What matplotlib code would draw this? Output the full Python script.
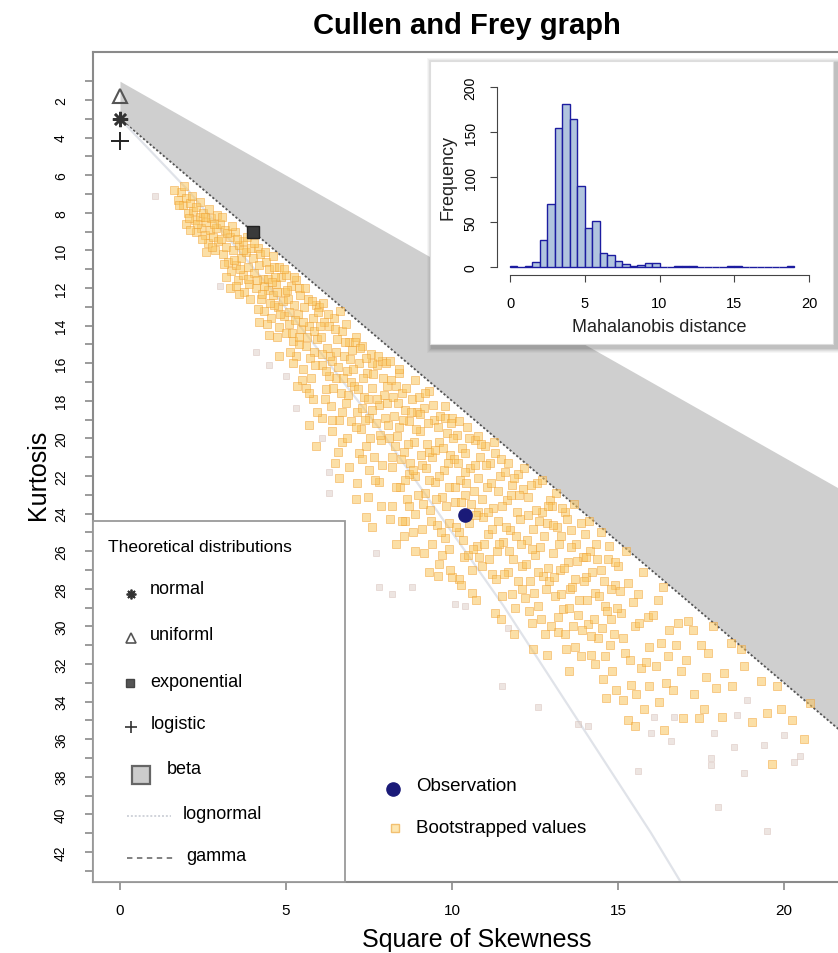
import matplotlib
matplotlib.use("Agg")
import matplotlib.pyplot as plt
from matplotlib.lines import Line2D
from matplotlib.patches import Rectangle
from matplotlib.transforms import blended_transform_factory
import numpy as np

plt.rcParams['font.family'] = ['Liberation Sans', 'DejaVu Sans']

W, H = 838, 954

# theoretical boundaries (square of skewness -> kurtosis)
bound_sq = [0, 22]
beta_upper_kurt = [1, 23]
gamma_kurt = [3, 36]
lognormal_sq = [0, 2.05, 4.62, 7.78, 11.55, 16.0, 17.2]
lognormal_kurt = [3, 6.8, 12.2, 19.4, 28.9, 41.0, 44.5]

# single point distributions
uniform_pt = (0, 1.8)
normal_pt = (0, 3.0)
logistic_pt = (0, 4.2)
exponential_pt = (4.0, 9.0)
observation_pt = (10.4, 24.1)

kurt_ticks = list(range(2, 43, 2))
skew_ticks = [0, 5, 10, 15, 20]

# bootstrapped (square of skewness, kurtosis)
boot_points = [
    (1.75, 7.3), (1.85, 6.9), (1.9, 7.6), (2.0, 7.2), (2.05, 8.0), (2.1, 7.5), (2.2, 7.9), (2.25, 8.4),
    (2.3, 7.7), (2.4, 8.2), (2.45, 8.8), (2.5, 8.0), (2.55, 9.2), (2.6, 8.5), (2.65, 9.6), (2.7, 8.9),
    (2.75, 8.3), (2.8, 9.3), (2.85, 10.0), (2.9, 8.8), (2.95, 9.5), (2.3, 9.0), (2.0, 8.6), (2.6, 10.1),
    (3.0, 8.6), (3.05, 9.4), (3.1, 10.2), (3.15, 8.9), (3.2, 9.8), (3.25, 10.6), (3.3, 9.3), (3.35, 11.1),
    (3.4, 10.0), (3.45, 9.0), (3.5, 10.8), (3.55, 11.6), (3.6, 9.7), (3.65, 10.4), (3.7, 11.3), (3.75, 12.2),
    (3.8, 10.1), (3.85, 10.9), (3.9, 11.8), (3.95, 9.9), (3.3, 12.0), (3.7, 9.5),
    (4.0, 10.4), (4.05, 11.2), (4.1, 12.0), (4.15, 9.9), (4.2, 10.8), (4.25, 12.6), (4.3, 11.5), (4.35, 13.2),
    (4.4, 10.6), (4.45, 12.1), (4.5, 11.0), (4.55, 13.6), (4.6, 12.4), (4.65, 10.9), (4.7, 11.8), (4.75, 13.0),
    (4.8, 14.1), (4.85, 11.4), (4.9, 12.7), (4.95, 13.5), (4.5, 14.5), (4.2, 13.8), (4.8, 10.9), (4.35, 11.9),
    (4.65, 12.9), (4.8, 15.6),
    (5.0, 11.3), (5.05, 12.6), (5.1, 13.9), (5.15, 11.9), (5.2, 14.8), (5.25, 12.9), (5.3, 15.6), (5.35, 13.4),
    (5.4, 12.0), (5.45, 14.2), (5.5, 16.3), (5.55, 13.0), (5.6, 15.1), (5.65, 12.6), (5.7, 14.0), (5.75, 16.8),
    (5.8, 13.6), (5.85, 15.4), (5.9, 12.9), (5.95, 14.7), (5.2, 16.0), (5.6, 17.3), (5.4, 15.0), (5.8, 17.9),
    (5.0, 14.4), (5.3, 11.6), (5.7, 19.3), (5.9, 20.4),
    (6.0, 13.0), (6.05, 14.6), (6.1, 16.1), (6.15, 13.8), (6.2, 17.4), (6.25, 15.2), (6.3, 14.0), (6.35, 18.3),
    (6.4, 15.9), (6.45, 13.6), (6.5, 16.8), (6.55, 14.7), (6.6, 19.0), (6.65, 17.6), (6.7, 14.3), (6.75, 15.6),
    (6.8, 18.1), (6.85, 16.4), (6.9, 14.9), (6.95, 17.0), (6.1, 18.9), (6.4, 19.6), (6.7, 20.2), (6.3, 16.7),
    (6.8, 13.9), (6.6, 22.1), (6.9, 21.5),
    (7.0, 15.3), (7.05, 17.2), (7.1, 14.6), (7.15, 18.6), (7.2, 16.0), (7.25, 19.5), (7.3, 15.1), (7.35, 17.8),
    (7.4, 20.4), (7.45, 16.5), (7.5, 18.9), (7.55, 15.5), (7.6, 17.3), (7.65, 21.0), (7.7, 19.2), (7.75, 16.1),
    (7.8, 18.2), (7.85, 20.1), (7.9, 15.9), (7.95, 17.7), (7.2, 20.8), (7.5, 21.7), (7.8, 22.3), (7.3, 18.4),
    (7.6, 16.0), (7.1, 23.2), (7.6, 24.7), (7.4, 24.2),
    (8.0, 16.0), (8.05, 18.1), (8.1, 20.0), (8.15, 16.9), (8.2, 21.5), (8.25, 18.8), (8.3, 17.2), (8.35, 19.9),
    (8.4, 19.4), (8.45, 22.6), (8.5, 17.6), (8.55, 20.7), (8.6, 18.5), (8.65, 23.2), (8.7, 19.1), (8.75, 21.3),
    (8.8, 17.9), (8.85, 20.2), (8.9, 22.0), (8.95, 18.6), (8.2, 23.6), (8.6, 24.4), (8.9, 24.0), (8.4, 16.5),
    (8.7, 21.9), (8.5, 24.4), (8.9, 26.0), (8.3, 25.6),
    (9.0, 17.8), (9.05, 19.6), (9.1, 21.4), (9.15, 18.4), (9.2, 22.9), (9.25, 20.3), (9.3, 17.5), (9.35, 23.8),
    (9.4, 21.0), (9.45, 19.0), (9.5, 22.3), (9.55, 24.6), (9.6, 20.2), (9.65, 18.8), (9.7, 23.1), (9.75, 21.7),
    (9.8, 25.3), (9.85, 19.7), (9.9, 22.6), (9.95, 20.9), (9.1, 24.8), (9.4, 25.6), (9.7, 26.2), (9.3, 20.7),
    (9.8, 18.9), (9.3, 27.1), (9.6, 26.7), (9.9, 25.9),
    (10.0, 18.9), (10.05, 21.1), (10.1, 23.4), (10.15, 19.8), (10.2, 25.0), (10.25, 22.2), (10.3, 20.5),
    (10.35, 26.3), (10.4, 23.0), (10.45, 19.4), (10.5, 24.5), (10.55, 21.6), (10.6, 27.0), (10.65, 22.8),
    (10.7, 20.1), (10.75, 25.7), (10.8, 23.9), (10.85, 21.0), (10.9, 26.8), (10.95, 24.2), (10.2, 27.5),
    (10.6, 28.2), (10.8, 19.9), (10.4, 21.8), (10.0, 27.4),
    (11.0, 20.4), (11.05, 22.6), (11.1, 25.1), (11.15, 21.3), (11.2, 27.2), (11.25, 23.7), (11.3, 20.8),
    (11.35, 26.0), (11.4, 24.4), (11.45, 22.0), (11.5, 28.4), (11.55, 25.5), (11.6, 21.8), (11.65, 23.3),
    (11.7, 27.1), (11.75, 24.9), (11.8, 22.5), (11.85, 26.4), (11.9, 29.0), (11.95, 23.9), (11.3, 29.3),
    (12.0, 21.9), (12.05, 24.3), (12.1, 26.8), (12.15, 22.7), (12.2, 28.5), (12.25, 25.4), (12.3, 23.1),
    (12.35, 27.6), (12.4, 29.8), (12.45, 24.8), (12.5, 26.2), (12.55, 22.4), (12.6, 28.9), (12.65, 25.8),
    (12.7, 23.9), (12.75, 27.3), (12.8, 30.4), (12.85, 24.5), (12.9, 26.9), (12.95, 23.3),
    (13.0, 23.6), (13.05, 26.1), (13.1, 28.4), (13.15, 24.7), (13.2, 30.3), (13.25, 27.0), (13.3, 25.2),
    (13.35, 29.1), (13.4, 23.9), (13.45, 31.2), (13.5, 26.6), (13.55, 28.0), (13.6, 24.9), (13.65, 30.0),
    (13.7, 27.5), (13.75, 25.6), (13.8, 29.4), (13.9, 31.6), (13.95, 26.3),
    (14.0, 25.1), (14.05, 27.4), (14.1, 29.9), (14.15, 26.0), (14.2, 31.5), (14.3, 28.2), (14.35, 25.6),
    (14.4, 30.6), (14.5, 27.0), (14.55, 32.8), (14.6, 28.9), (14.7, 26.4), (14.75, 31.0), (14.8, 29.6),
    (14.9, 27.8), (14.95, 33.4),
    (15.0, 26.8), (15.1, 29.3), (15.2, 31.4), (15.3, 27.7), (15.4, 33.1), (15.5, 30.0), (15.6, 28.3),
    (15.7, 32.2), (15.8, 34.4), (15.9, 29.5), (15.3, 35.0), (15.95, 31.1),
    (16.2, 28.6), (16.3, 30.9), (16.45, 33.0), (16.8, 29.8), (16.9, 32.4), (16.5, 31.6),
    (17.1, 29.7), (17.3, 33.6), (17.5, 31.0), (17.7, 31.4), (17.6, 34.4), (18.2, 32.5), (18.4, 30.9),
    (18.8, 32.1), (19.5, 34.6), (19.8, 33.2), (20.8, 34.1),
]

# second pass over the denser parts of the cloud
boot_points_dense = [
    (1.62, 6.8), (1.78, 7.6), (1.93, 6.6), (2.07, 8.3), (2.18, 7.1), (2.33, 8.6), (2.41, 7.4), (2.57, 8.2),
    (2.68, 7.8), (2.77, 9.8), (2.91, 8.1), (2.12, 8.9), (2.47, 9.4), (2.83, 8.6),
    (3.07, 8.2), (3.13, 10.7), (3.22, 9.1), (3.38, 8.7), (3.42, 10.5), (3.51, 9.4), (3.63, 11.0), (3.72, 10.0),
    (3.83, 9.3), (3.87, 11.5), (3.58, 12.3), (3.18, 11.4), (3.93, 12.6), (3.48, 11.9),
    (4.03, 9.6), (4.12, 11.6), (4.22, 10.2), (4.28, 12.3), (4.38, 10.1), (4.47, 11.5), (4.53, 12.8),
    (4.62, 10.3), (4.68, 11.4), (4.73, 12.2), (4.82, 13.4), (4.93, 11.0), (4.97, 12.2), (4.15, 13.1),
    (4.43, 13.9), (4.72, 14.6), (4.58, 11.7),
    (5.03, 12.1), (5.08, 13.3), (5.17, 14.4), (5.23, 11.4), (5.28, 13.7), (5.38, 14.6), (5.43, 12.4),
    (5.52, 13.8), (5.58, 12.0), (5.63, 14.6), (5.72, 15.7), (5.78, 12.7), (5.83, 14.3), (5.88, 16.1),
    (5.97, 13.3), (5.47, 16.9), (5.12, 15.4), (5.68, 17.6), (5.93, 18.6), (5.33, 17.2),
    (6.03, 14.0), (6.08, 15.5), (6.13, 12.8), (6.22, 16.4), (6.28, 13.4), (6.33, 15.6), (6.42, 17.3),
    (6.48, 14.2), (6.52, 15.4), (6.58, 16.2), (6.63, 13.2), (6.68, 18.6), (6.72, 16.8), (6.78, 14.9),
    (6.87, 17.7), (6.93, 15.8), (6.97, 19.1), (6.17, 17.9), (6.38, 19.0), (6.57, 20.7), (6.83, 20.0),
    (6.47, 21.3),
    (7.03, 16.3), (7.08, 14.9), (7.12, 19.4), (7.18, 17.4), (7.22, 15.2), (7.28, 21.1), (7.33, 16.8),
    (7.38, 19.0), (7.42, 15.7), (7.48, 17.9), (7.53, 20.0), (7.58, 18.5), (7.63, 16.6), (7.68, 22.2),
    (7.73, 17.9), (7.78, 15.6), (7.83, 19.8), (7.88, 21.4), (7.93, 16.8), (7.98, 18.9), (7.15, 22.4),
    (7.47, 23.1), (7.87, 23.6),
    (8.03, 17.2), (8.08, 19.3), (8.12, 15.9), (8.18, 21.0), (8.22, 17.8), (8.28, 20.4), (8.32, 22.6),
    (8.38, 18.1), (8.42, 16.3), (8.48, 21.1), (8.52, 19.0), (8.58, 22.2), (8.62, 17.3), (8.68, 20.3),
    (8.72, 23.6), (8.78, 18.6), (8.82, 21.7), (8.88, 16.9), (8.92, 19.5), (8.98, 23.0), (8.13, 24.3),
    (8.57, 25.2), (8.83, 25.0),
    (9.03, 18.7), (9.08, 20.9), (9.12, 23.5), (9.18, 17.6), (9.22, 21.6), (9.28, 19.2), (9.32, 22.2),
    (9.38, 24.4), (9.42, 18.2), (9.48, 20.6), (9.52, 23.2), (9.58, 19.4), (9.62, 22.0), (9.68, 25.0),
    (9.72, 20.5), (9.78, 18.3), (9.82, 23.6), (9.88, 21.3), (9.92, 24.5), (9.98, 19.2), (9.17, 26.1),
    (9.57, 27.3), (9.93, 27.0),
    (10.03, 20.0), (10.08, 22.6), (10.12, 24.7), (10.18, 21.3), (10.22, 19.1), (10.28, 23.4), (10.32, 25.4),
    (10.38, 20.8), (10.42, 22.4), (10.48, 26.2), (10.52, 20.0), (10.58, 23.5), (10.62, 25.9), (10.68, 21.4),
    (10.72, 24.1), (10.78, 22.1), (10.82, 26.3), (10.88, 20.3), (10.92, 23.2), (10.98, 25.6), (10.27, 27.8),
    (10.73, 28.6),
    (11.03, 21.4), (11.08, 23.9), (11.12, 26.4), (11.18, 22.4), (11.22, 24.8), (11.28, 20.2), (11.32, 27.5),
    (11.38, 22.8), (11.42, 25.6), (11.48, 21.1), (11.52, 23.6), (11.58, 27.2), (11.62, 24.7), (11.68, 21.3),
    (11.72, 26.0), (11.78, 23.0), (11.82, 28.3), (11.88, 22.1), (11.92, 25.2), (11.98, 27.6), (11.47, 29.6),
    (11.87, 30.4),
    (12.03, 23.0), (12.08, 25.6), (12.12, 28.0), (12.18, 21.6), (12.22, 26.7), (12.28, 24.1), (12.32, 29.2),
    (12.38, 22.5), (12.42, 25.9), (12.48, 28.2), (12.52, 23.8), (12.58, 27.1), (12.62, 24.4), (12.68, 29.6),
    (12.72, 22.2), (12.78, 25.2), (12.82, 28.0), (12.88, 23.6), (12.92, 27.6), (12.98, 30.0), (12.43, 31.2),
    (12.87, 31.5),
    (13.03, 24.6), (13.08, 27.4), (13.12, 22.9), (13.18, 29.5), (13.22, 25.6), (13.28, 28.3), (13.32, 23.7),
    (13.38, 26.9), (13.42, 30.4), (13.48, 24.3), (13.52, 29.0), (13.58, 25.8), (13.62, 27.9), (13.68, 23.5),
    (13.72, 31.1), (13.78, 26.5), (13.82, 28.6), (13.88, 24.5), (13.92, 30.2), (13.98, 27.6), (13.53, 32.4),
    (14.03, 26.3), (14.08, 28.6), (14.12, 24.4), (14.18, 30.5), (14.22, 27.1), (14.28, 29.6), (14.32, 32.0),
    (14.38, 26.4), (14.42, 28.4), (14.48, 25.0), (14.52, 30.1), (14.58, 27.6), (14.62, 31.6), (14.68, 29.2),
    (14.72, 25.7), (14.78, 28.0), (14.82, 32.4), (14.88, 30.4), (14.92, 26.6), (14.98, 29.0), (14.63, 33.8),
    (15.05, 28.1), (15.15, 30.6), (15.25, 26.0), (15.35, 31.8), (15.45, 28.7), (15.55, 33.6), (15.65, 29.8),
    (15.75, 27.1), (15.85, 31.9), (15.95, 33.2), (15.15, 33.9), (15.5, 35.3),
    (16.05, 29.4), (16.15, 32.1), (16.25, 34.0), (16.35, 27.9), (16.55, 30.2), (16.65, 33.4), (16.75, 31.0),
    (16.95, 34.9), (16.4, 35.5),
    (17.05, 31.8), (17.25, 30.2), (17.45, 34.9), (17.65, 32.7), (17.85, 30.0), (17.95, 33.3),
    (18.15, 34.8), (18.45, 33.2), (18.7, 31.2), (19.05, 35.1), (19.3, 32.9), (19.65, 37.3), (19.9, 34.4),
    (20.25, 35.0), (20.6, 36.0),
]

# faint, greyish bootstrap values away from the main band
boot_outliers = [
    (1.05, 7.1), (3.0, 11.9), (4.1, 15.4), (4.5, 16.1), (5.0, 16.7), (5.3, 18.4), (6.1, 20.0), (6.3, 21.8),
    (6.3, 22.9), (7.7, 26.1), (7.8, 27.9), (8.2, 28.3), (8.8, 27.9), (10.1, 28.8), (10.4, 28.9), (11.7, 30.1),
    (11.5, 33.2), (12.6, 34.3), (13.8, 35.2), (14.1, 35.3), (15.6, 37.7), (16.0, 35.7), (16.1, 34.8),
    (16.6, 36.1), (16.7, 34.8), (17.8, 37.0), (17.8, 37.4), (17.9, 35.7), (18.0, 39.6), (18.5, 36.4),
    (18.6, 34.7), (18.9, 33.9), (18.8, 37.8), (19.4, 36.3), (19.5, 40.9), (20.0, 35.8), (20.3, 37.2),
    (20.5, 36.9),
]

# inset histogram of Mahalanobis distances
hist_bin_width = 0.5
hist_counts = [1, 0, 1, 5, 30, 70, 154, 181, 164, 90, 43, 51, 16, 13, 7, 3, 1, 2, 4, 4,
               0, 0, 1, 1, 1, 0, 0, 0, 0, 1, 1, 0, 0, 0, 0, 0, 0, 1]

theo_labels = ["normal", "uniforml", "exponential", "logistic", "beta", "lognormal", "gamma"]


def fpt(px, py):
    return (px / W, 1 - py / H)


fig = plt.figure(figsize=(W / 100, H / 100), dpi=100)

# ---- main Cullen & Frey axes ----
ax = fig.add_axes([93 / W, 1 - 883 / H, (838 - 93) / W, (883 - 53) / H])
ax.set_xlim(-0.813, 21.63)
ax.set_ylim(43.6, -0.553)

ax.fill_between(bound_sq, beta_upper_kurt, gamma_kurt, color='#cfcfcf', lw=0, zorder=1)
ax.plot(bound_sq, gamma_kurt, color='#555555', ls=(0, (1.2, 1.2)), lw=1.3, zorder=2)
ax.plot(lognormal_sq, lognormal_kurt, color='#e0e3e9', lw=1.6, zorder=2)

bx, by = np.array(boot_points + boot_points_dense).T
ox, oy = np.array(boot_outliers).T
ax.scatter(ox, oy, s=18, marker='s', facecolor='#ddccc4', edgecolor='#cdb0a6', lw=0.5, alpha=0.5, zorder=3)
ax.scatter(bx, by, s=26, marker='s', facecolor='#f9c55e', edgecolor='#f0a030', lw=0.6, alpha=0.55, zorder=3)

ax.plot(*uniform_pt, marker='^', ms=10, mfc='none', mec='#555555', mew=1.5, zorder=5)
ax.plot(*normal_pt, marker=(8, 2, 0), ms=11, color='#333333', mew=1.8, zorder=5)
ax.plot(*logistic_pt, marker='+', ms=13, color='#222222', mew=1.4, zorder=5)
ax.plot(*exponential_pt, marker='s', ms=9, mfc='#3a3a3a', mec='#222222', mew=1, zorder=5)
ax.plot(*observation_pt, marker='o', ms=9.5, color='#1a1a78', zorder=6)

for side in ['left', 'top', 'bottom']:
    ax.spines[side].set_color('#8a8a8a')
    ax.spines[side].set_linewidth(1.5)
ax.spines['right'].set_visible(False)

ax.set_xticks(skew_ticks)
ax.set_yticks(kurt_ticks)
ax.set_yticks(range(1, 44, 2), minor=True)
ax.tick_params(axis='both', which='both', direction='out', length=6, width=1.2, color='#8a8a8a')
ax.tick_params(axis='x', labelsize=11, pad=9)
# rotated kurtosis labels placed explicitly, R style
ax.tick_params(axis='y', labelleft=False)
ylab_tr = blended_transform_factory(ax.transAxes, ax.transData)
for k in kurt_ticks:
    ax.text((61 - 93) / 745, k, str(k), transform=ylab_tr, rotation=90, ha='center', va='center',
            fontsize=10, clip_on=False)

fig.text(477 / W, 1 - 940 / H, 'Square of Skewness', ha='center', va='center', fontsize=18)
fig.text(38 / W, 1 - 475 / H, 'Kurtosis', rotation=90, ha='center', va='center', fontsize=18)
fig.text(467 / W, 1 - 26 / H, 'Cullen and Frey graph', ha='center', va='center',
         fontsize=21, fontweight='bold')

# ---- theoretical distributions legend ----
fig.add_artist(Rectangle(fpt(93, 883), (345 - 93) / W, (883 - 522) / H, transform=fig.transFigure,
                         facecolor='white', edgecolor='#9a9a9a', lw=1.3, zorder=2))
fig.text(*fpt(108, 548), 'Theoretical distributions', fontsize=12.5, va='center', zorder=3)

legend_marks = [
    dict(marker=(8, 2, 0), ms=7, color='#333333', mew=1.3),
    dict(marker='^', ms=6.5, mfc='none', mec='#555555', mew=1.2),
    dict(marker='s', ms=5.5, mfc='#555555', mec='#444444'),
    dict(marker='+', ms=8, color='#333333', mew=1.2),
    dict(marker='s', ms=13, mfc='#cccccc', mec='#666666', mew=1.6),
]
mark_pos = [(131, 595), (131, 639), (130, 684), (131, 728), (141, 776)]
text_pos = [(150, 590), (150, 635), (150, 683), (151, 725), (167, 770), (183, 815), (186, 857)]
for (mx, my), style in zip(mark_pos, legend_marks):
    x, y = fpt(mx, my)
    fig.add_artist(Line2D([x], [y], transform=fig.transFigure, ls='none', zorder=3, **style))
for (x0, x1, ly), style in zip([(127, 171, 817), (127, 176, 859)],
                               [dict(color='#d0d3da', ls=(0, (1, 1)), lw=1.4),
                                dict(color='#777777', ls=(0, (3, 2.5)), lw=1.3)]):
    (a, y), (b, _) = fpt(x0, ly), fpt(x1, ly)
    fig.add_artist(Line2D([a, b], [y, y], transform=fig.transFigure, zorder=3, **style))
for (tx, ty), lab in zip(text_pos, theo_labels):
    fig.text(*fpt(tx, ty), lab, fontsize=13, va='center', zorder=3)

# ---- observation / bootstrap legend ----
x, y = fpt(393, 790)
fig.add_artist(Line2D([x], [y], transform=fig.transFigure, marker='o', ms=9.5, color='#1a1a78', ls='none', zorder=3))
x, y = fpt(395, 829)
fig.add_artist(Line2D([x], [y], transform=fig.transFigure, marker='s', ms=5.5, mfc='#fde6b0', mec='#f2c070',
                      mew=1, ls='none', zorder=3))
fig.text(*fpt(416, 787), 'Observation', fontsize=13.5, va='center', zorder=3)
fig.text(*fpt(416, 829), 'Bootstrapped values', fontsize=13.5, va='center', zorder=3)

# ---- inset histogram with drop shadow ----
for i, alpha in enumerate([0.05, 0.06, 0.08, 0.1, 0.12]):
    g = 6 - i
    fig.add_artist(Rectangle(fpt(430 - g + 3, 345 + g + 3), (403 + 2 * g) / W, (283 + 2 * g) / H,
                             transform=fig.transFigure, facecolor='#505050', edgecolor='none',
                             alpha=alpha, zorder=4))
fig.add_artist(Rectangle(fpt(430, 345), 403 / W, 283 / H, transform=fig.transFigure,
                         facecolor='white', edgecolor='#dddddd', lw=0.8, zorder=4.5))

ax2 = fig.add_axes([497 / W, 1 - 276 / H, (822 - 497) / W, (276 - 80) / H], zorder=6)
ax2.patch.set_alpha(0)
edges = np.arange(len(hist_counts)) * hist_bin_width
ax2.bar(edges, hist_counts, width=hist_bin_width, align='edge', color='#b0c4de',
        edgecolor='#1c1ca0', lw=1)
ax2.set_xlim(-0.87, 20.87)
ax2.set_ylim(-8.9, 208.9)
ax2.spines['top'].set_visible(False)
ax2.spines['right'].set_visible(False)
ax2.spines['left'].set_bounds(0, 200)
ax2.spines['bottom'].set_bounds(0, 20)
for side in ['left', 'bottom']:
    ax2.spines[side].set_color('#444444')
ax2.set_xticks([0, 5, 10, 15, 20])
ax2.set_yticks([0, 50, 100, 150, 200])
ax2.tick_params(direction='out', length=5, color='#444444')
ax2.tick_params(axis='y', labelsize=10, pad=9, labelrotation=90)
ax2.tick_params(axis='x', labelsize=10.5, pad=10)
for lab in ax2.get_yticklabels():
    lab.set_va('center')
ax2.set_xlabel('Mahalanobis distance', fontsize=13, labelpad=6, color='#222222')
ax2.set_ylabel('Frequency', fontsize=13, labelpad=5, color='#222222')

fig.savefig('out.png', dpi=100)
